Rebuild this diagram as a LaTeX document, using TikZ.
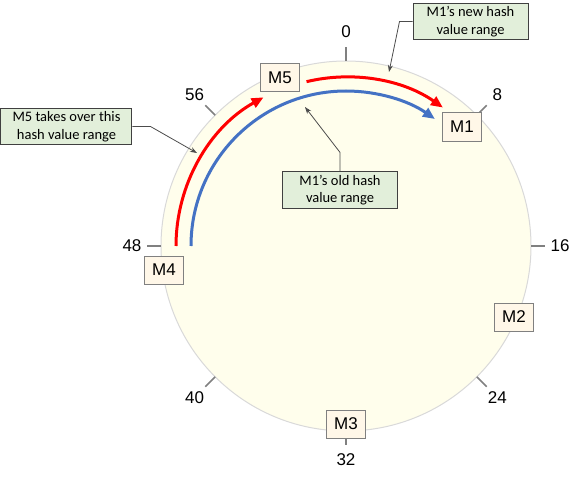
\documentclass[tikz,border=0pt]{standalone}
\usepackage{fontspec}
\setmainfont{Liberation Sans}
\newfontfamily\notafont{Carlito}
\usetikzlibrary{arrows.meta, positioning}
\definecolor{anillo}{RGB}{255,254,236}
\definecolor{borde}{RGB}{217,217,217}
\definecolor{crema}{RGB}{255,247,232}
\definecolor{verdenota}{RGB}{226,239,218}
\definecolor{azulm}{RGB}{68,114,196}
\tikzset{
  maquina/.style={rectangle, draw=black!50, fill=crema, line width=1pt,
    minimum width=39pt, minimum height=28pt, inner sep=2pt,
    font=\fontsize{17}{20}\selectfont},
  nota/.style={rectangle, draw=black!75, fill=verdenota, line width=1pt,
    minimum height=35pt, inner sep=3pt, align=center,
    font=\notafont\fontsize{14.5}{17.5}\selectfont},
  guia/.style={-{Stealth[length=7pt,width=5pt]}, line width=0.8pt, color=black!70},
  arcorojo/.style={-{Triangle[length=12pt,width=10pt]}, line width=3pt, color=red},
  arcoazul/.style={arcorojo, color=azulm},
  marca/.style={line width=1.6pt, color=black!50},
  etiq/.style={font=\fontsize{17}{20}\selectfont, inner sep=1pt}
}
\begin{document}
\begin{tikzpicture}[x=1pt, y=1pt]
  \useasboundingbox (-346,-236) rectangle (237,246);
  % anillo de hash
  \draw[fill=anillo, draw=borde, line width=1pt] (0,0) circle[radius=185];
  \foreach \v in {0,8,...,56} {
    \draw[marca] ({90-\v*45/8}:185) -- ({90-\v*45/8}:199);
    \node[etiq] (n\v) at ({90-\v*45/8}:214) {\v};
  }
  % rangos
  \draw[arcorojo] (180:170) arc[start angle=180, end angle=119, radius=170];
  \draw[arcorojo] (103.5:169) arc[start angle=103.5, end angle=55, radius=169];
  \draw[arcoazul] (180:155) arc[start angle=180, end angle=55, radius=155];
  % maquinas
  \node[maquina] (m5) at (-66,168) {M5};
  \node[maquina] (m1) at (116,119) {M1};
  \node[maquina] (m4) at (-182,-24) {M4};
  \node[maquina] (m2) at (168,-71) {M2};
  \node[maquina] (m3) at (0,-178) {M3};
  % notas
  \node[nota, minimum width=115pt] (nueva) at (124.5,224.5) {M1’s new hash\\value range};
  \node[nota, minimum width=131pt] (toma) at (-279.5,119.5) {M5 takes over this\\hash value range};
  \node[nota, minimum width=114pt] (vieja) at (-6,56) {M1’s old hash\\value range};
  \coordinate (p1) at (43,174);
  \coordinate (p2) at (-149,93);
  \coordinate (p3) at (-41,139);
  \draw[guia] (nueva.west) -- ++(-13,0) -- (p1);
  \draw[guia] (toma.east) -- ++(18,0) -- (p2);
  \draw[guia] (vieja.north) -- ++(0,19) -- (p3);
\end{tikzpicture}
\end{document}
